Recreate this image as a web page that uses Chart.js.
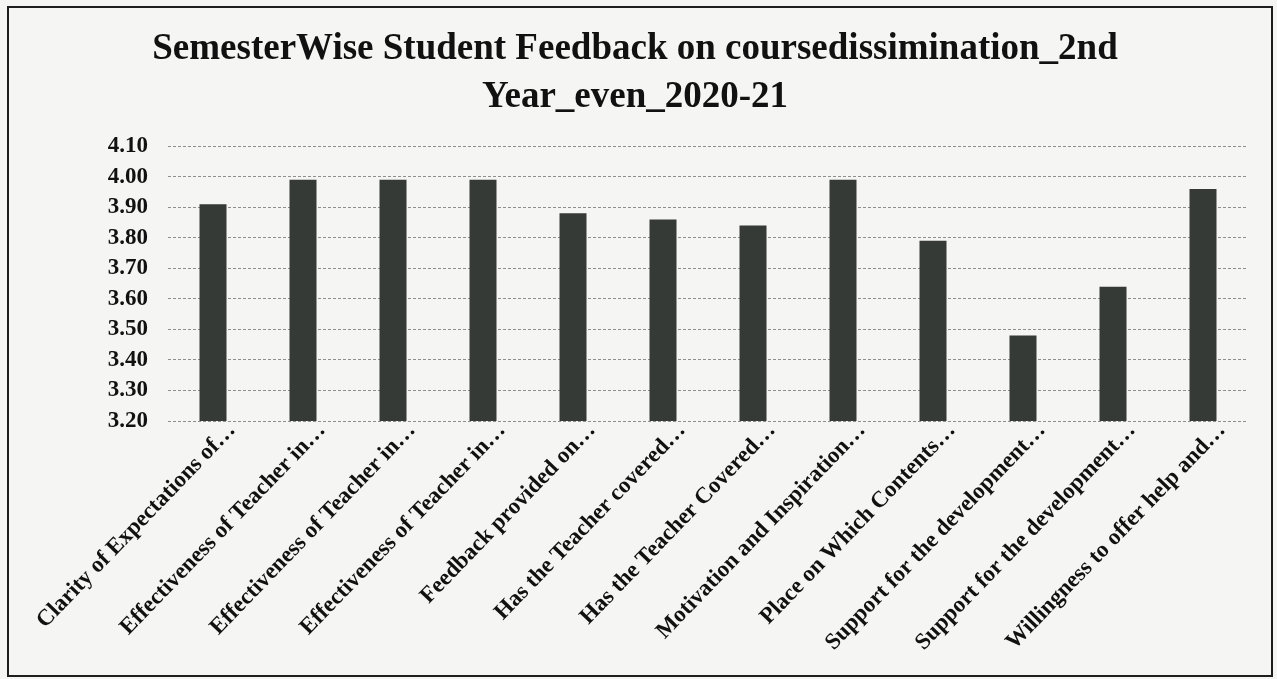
<!DOCTYPE html>
<html>
<head>
<meta charset="utf-8">
<title>SemesterWise Student Feedback</title>
<script src="https://cdn.jsdelivr.net/npm/chart.js"></script>
<style>
    html, body {
        margin: 0;
        padding: 0;
        background: #f5f5f3;
    }
    #wrap {
        position: relative;
        width: 1277px;
        height: 679px;
    }
    #frame {
        position: absolute;
        left: 7px;
        top: 6px;
        width: 1262px;
        height: 667px;
        border: 2px solid #1e1e1e;
        pointer-events: none;
    }
    #feedbackChart {
        position: absolute;
        left: 0;
        top: 0;
    }
</style>
</head>
<body>
<div id="wrap">
    <canvas id="feedbackChart" width="1277" height="679"></canvas>
    <div id="frame"></div>
</div>
<script>
// Kategorier (avkortade som i originalrapporten)
const questions = [
    'Clarity of Expectations of…',
    'Effectiveness of Teacher in…',
    'Effectiveness of Teacher in…',
    'Effectiveness of Teacher in…',
    'Feedback provided on…',
    'Has the Teacher covered…',
    'Has the Teacher Covered…',
    'Motivation and Inspiration…',
    'Place on Which Contents…',
    'Support for the development…',
    'Support for the development…',
    'Willingness to offer help and…'
];

// Medelbetyg per fråga
const avgScores = [3.91, 3.99, 3.99, 3.99, 3.88, 3.86, 3.84, 3.99, 3.79, 3.48, 3.64, 3.96];

// Y-axelns steg
const yTickValues = [3.2, 3.3, 3.4, 3.5, 3.6, 3.7, 3.8, 3.9, 4.0, 4.1];

const titleLines = [
    'SemesterWise Student Feedback on coursedissimination_2nd',
    'Year_even_2020-21'
];

const serif = '"Liberation Serif", "Times New Roman", serif';

function createChart() {
    const ctx = document.getElementById('feedbackChart');

    new Chart(ctx, {
        type: 'bar',
        data: {
            labels: questions,
            datasets: [{
                label: 'Average',
                data: avgScores,
                backgroundColor: '#353a36',
                borderWidth: 0,
                barPercentage: 0.6,
                categoryPercentage: 0.5
            }]
        },
        options: {
            responsive: false,
            animation: false,
            layout: {
                padding: { left: 22, right: 29, top: 25, bottom: 8 }
            },
            plugins: {
                legend: { display: false },
                tooltip: { enabled: false },
                title: {
                    display: true,
                    text: titleLines,
                    color: '#111',
                    font: { family: serif, size: 37, weight: 'bold', lineHeight: 1.3 },
                    padding: { top: 0, bottom: 25 }
                }
            },
            scales: {
                x: {
                    grid: { display: false },
                    border: { display: false },
                    ticks: {
                        color: '#111',
                        font: { family: serif, size: 23, weight: 'bold' },
                        maxRotation: 46,
                        minRotation: 46,
                        autoSkip: false,
                        padding: -12,
                        labelOffset: 19
                    },
                    afterFit(scale) {
                        scale.height = 250;
                    }
                },
                y: {
                    min: 3.2,
                    max: 4.1,
                    // prickade stödlinjer
                    border: { display: false, dash: [3, 2] },
                    grid: {
                        color: '#8e8e8e',
                        lineWidth: 1,
                        drawTicks: false
                    },
                    ticks: {
                        color: '#111',
                        font: { family: serif, size: 23, weight: 'bold' },
                        padding: 20,
                        autoSkip: false,
                        callback: value => Number(value).toFixed(2)
                    },
                    afterBuildTicks(scale) {
                        scale.ticks = yTickValues.map(v => ({ value: v }));
                    },
                    afterFit(scale) {
                        scale.width = 146;
                    }
                }
            }
        }
    });
}

createChart();
</script>
</body>
</html>
